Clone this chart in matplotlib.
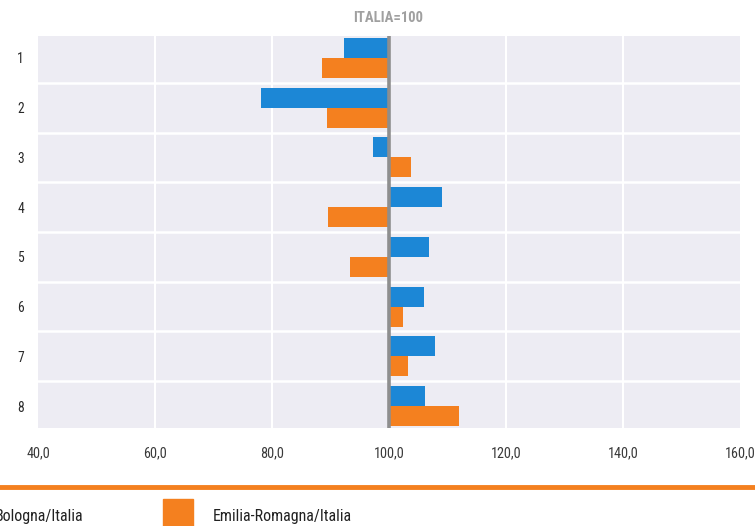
import matplotlib
matplotlib.use("Agg")
import matplotlib.pyplot as plt
from matplotlib.patches import Rectangle
from matplotlib.lines import Line2D
from matplotlib import font_manager
import numpy as np

# pick a condensed font if one is installed
cond = None
names = sorted(set((f.name, f.stretch) for f in font_manager.fontManager.ttflist))
for pref in ['Liberation Sans Narrow', 'Roboto Condensed', 'Open Sans Condensed', 'DejaVu Sans Condensed']:
    if any(n == pref for n, s in names):
        cond = pref
        break
stretch = 'normal'
if cond is None:
    if any(n == 'DejaVu Sans' and s in ('condensed', 'semi-condensed', 'semicondensed') for n, s in names):
        cond = 'DejaVu Sans'
        stretch = 'condensed'
    else:
        cond = 'DejaVu Sans'
plt.rcParams['font.family'] = [cond, 'DejaVu Sans']
plt.rcParams['font.stretch'] = stretch

categories = ['1', '2', '3', '4', '5', '6', '7', '8']
bologna = [92.3, 78.2, 97.3, 109.1, 106.8, 105.9, 107.9, 106.2]
emilia = [88.5, 89.4, 103.8, 89.6, 93.3, 102.4, 103.3, 112.0]
xticks = [40, 60, 80, 100, 120, 140, 160]
xticklabels = ['40,0', '60,0', '80,0', '100,0', '120,0', '140,0', '160,0']
series_names = ['Bologna/Italia', 'Emilia-Romagna/Italia']
title = 'ITALIA=100'

blue = '#1C87D6'
orange = '#F4801F'
base = 100

fig = plt.figure(figsize=(7.55, 5.26), dpi=100)
ax = fig.add_axes([38/755, 1-428/526, (740-38)/755, (428-36)/526])
ax.set_facecolor('#EDECF3')

y = np.arange(1, len(categories)+1)
h = 0.4
ax.barh(y - 0.2, np.array(bologna) - base, left=base, height=h, color=blue, zorder=3)
ax.barh(y + 0.2, np.array(emilia) - base, left=base, height=h, color=orange, zorder=3)
ax.axvline(base, color='#8E8E8E', lw=2.6, zorder=4)

ax.set_xlim(40, 160)
ax.set_ylim(8.44, 0.56)
ax.set_xticks(xticks)
ax.set_xticklabels(xticklabels)
ax.set_yticks(y)
ax.set_yticklabels(categories)
for xv in xticks[1:-1]:
    ax.axvline(xv, color='white', lw=1.5, zorder=1)
for b in np.arange(1.5, 8.5, 1):
    ax.axhline(b, color='white', lw=1.8, zorder=1)
for s in ax.spines.values():
    s.set_visible(False)
ax.tick_params(axis='x', length=0, labelsize=10.3, colors='#3A3A3A', pad=13)
ax.tick_params(axis='y', length=0, labelsize=9.8, colors='#2A2A2A', pad=10)

fig.text(388/755, 1-17.5/526, title, ha='center', va='center', color='#A0A0A0',
         fontsize=10.5, fontweight='bold')

# separator line
fig.add_artist(Line2D([0, 1], [1-487/526, 1-487/526], color=orange, lw=3.5))
# legend
fig.add_artist(Rectangle((-62/755, 1-530/526), 30/755, 31/526, color=blue, transform=fig.transFigure))
fig.text(-5/755, 1-516/526, series_names[0], ha='left', va='center', fontsize=11.5, color='#222222')
fig.add_artist(Rectangle((163/755, 1-530/526), 30/755, 31/526, color=orange, transform=fig.transFigure))
fig.text(213/755, 1-516/526, series_names[1], ha='left', va='center', fontsize=11.5, color='#222222')

fig.savefig('out.png', dpi=100)
